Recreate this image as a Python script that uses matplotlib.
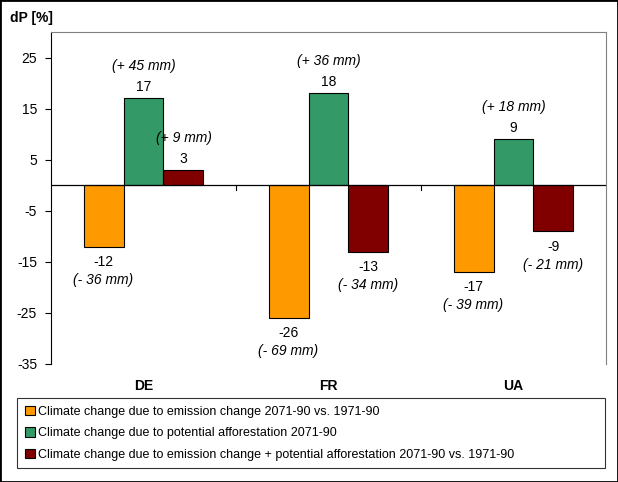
import numpy as np
import matplotlib.pyplot as plt
from matplotlib.patches import Rectangle

plt.rcParams['font.family'] = ['Liberation Sans', 'DejaVu Sans']
plt.rcParams['font.size'] = 10
plt.rcParams['axes.unicode_minus'] = False

countries = ["DE", "FR", "UA"]
emission = [-12, -26, -17]
afforest = [17, 18, 9]
combined = [3, -13, -9]
emission_mm = ["(- 36 mm)", "(- 69 mm)", "(- 39 mm)"]
afforest_mm = ["(+ 45 mm)", "(+ 36 mm)", "(+ 18 mm)"]
combined_mm = ["(+ 9 mm)", "(- 34 mm)", "(- 21 mm)"]
series_names = ["Climate change due to emission change 2071-90 vs. 1971-90",
                "Climate change due to potential afforestation 2071-90",
                "Climate change due to emission change + potential afforestation 2071-90 vs. 1971-90"]
colors = ["#FF9900", "#339966", "#800000"]

fig = plt.figure(figsize=(6.18, 4.82), dpi=100)
ax = fig.add_axes([51/618, 1-364/482, 555/618, (364-32)/482])

x = np.arange(len(countries))
w = 0.216
series = [emission, afforest, combined]
mms = [emission_mm, afforest_mm, combined_mm]
for i, (vals, mm, c, name) in enumerate(zip(series, mms, colors, series_names)):
    pos = x + (i - 1) * w
    ax.bar(pos, vals, w, color=c, edgecolor="black", linewidth=0.8, label=name, zorder=2)
    for px, v, m in zip(pos, vals, mm):
        if v >= 0:
            ax.annotate(str(v), (px, v), xytext=(0, 3), textcoords="offset points",
                        ha="center", va="bottom")
            ax.annotate(m, (px, v), xytext=(0, 18), textcoords="offset points",
                        ha="center", va="bottom", style="italic")
        else:
            ax.annotate(str(v), (px, v), xytext=(0, -6), textcoords="offset points",
                        ha="center", va="top")
            ax.annotate(m, (px, v), xytext=(0, -19), textcoords="offset points",
                        ha="center", va="top", style="italic")

ax.set_xlim(-0.5, 2.5)
ax.set_ylim(-35, 30)
ax.set_yticks([25, 15, 5, -5, -15, -25, -35])
ax.axhline(0, color="black", linewidth=0.9, zorder=3)
for b in [0.5, 1.5]:
    ax.plot([b, b], [0, -1.0], color="black", linewidth=0.8, zorder=3)
ax.set_xticks(x)
ax.set_xticklabels(countries, fontweight="bold")
ax.tick_params(axis="x", length=0, pad=11)
ax.tick_params(axis="y", direction="out", length=4, color="black", pad=6)
for s in ["top", "right", "bottom"]:
    ax.spines[s].set_color("#808080")
ax.spines["bottom"].set_visible(False)
ax.spines["left"].set_color("black")

fig.text(10/618, 1-18/482, "dP [%]", fontweight="bold", va="center", ha="left")

leg = fig.legend(loc="upper left", bbox_to_anchor=(17/618, 1-472/482, (605-17)/618, 74/482),
                 mode="expand", frameon=True, fancybox=False, edgecolor="black",
                 handlelength=0.8, handleheight=0.8, handletextpad=0.3,
                 labelspacing=0.75, borderaxespad=0, borderpad=0.6, fontsize=9)
leg.get_frame().set_linewidth(0.8)

fig.patches.append(Rectangle((0, 0), 1, 1, transform=fig.transFigure, fill=False,
                             edgecolor="black", linewidth=2))

fig.savefig("out.png", dpi=100)
